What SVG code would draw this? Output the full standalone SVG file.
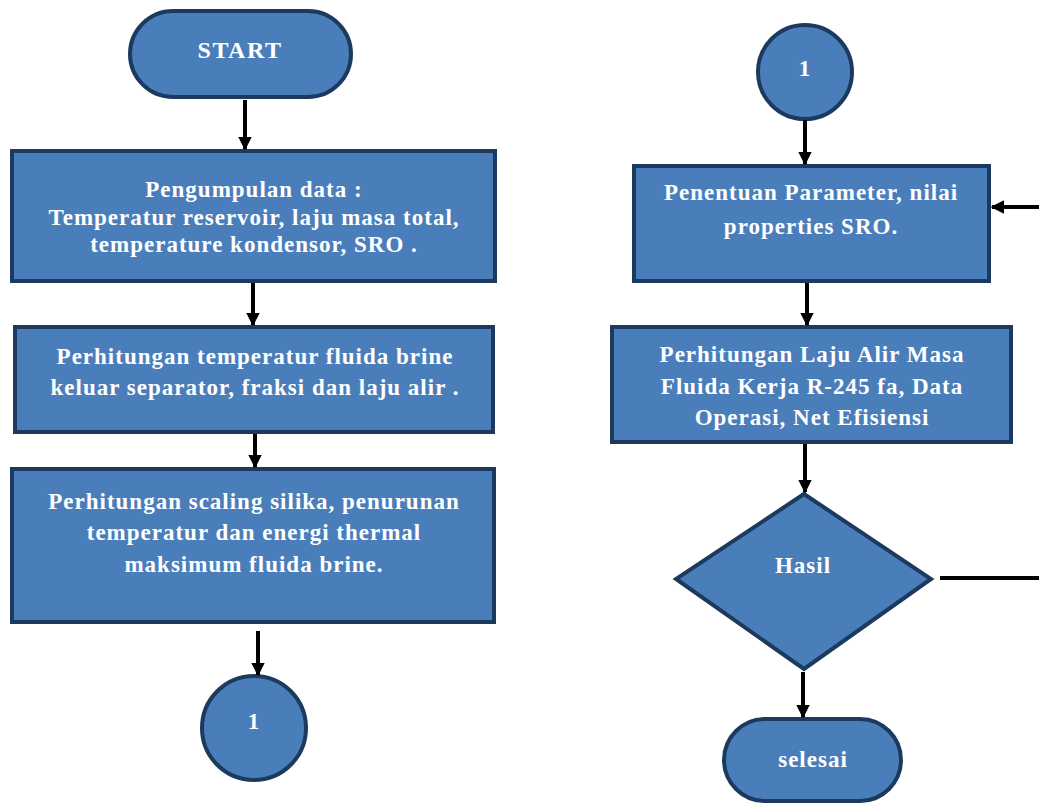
<svg xmlns="http://www.w3.org/2000/svg" width="1039" height="804" viewBox="0 0 1039 804">
<defs>
<marker id="ah" viewBox="0 0 10 10" refX="9" refY="5" markerWidth="3.4" markerHeight="3.4" orient="auto" markerUnits="strokeWidth">
<path d="M0,0 L10,5 L0,10 Z" fill="#000"/>
</marker>
</defs>
<style>
.sh{fill:#4a7ebb;stroke:#1c3a5e;stroke-width:4}
.t{font-family:"Liberation Serif","Times New Roman",serif;font-weight:bold;font-size:23px;letter-spacing:1px;fill:#fff;text-anchor:middle}
.c{fill:none;stroke:#000;stroke-width:4;marker-end:url(#ah)}
.cn{fill:none;stroke:#000;stroke-width:4}
</style>
<rect width="1039" height="804" fill="#fff"/>
<g id="start">
<rect class="sh" x="130" y="11" width="221" height="86" rx="43"/>
<text class="t" x="240" y="58" style="font-size:24px;letter-spacing:1.5px">START</text>
</g>
<g id="data">
<rect class="sh" x="12" y="151" width="483" height="130"/>
<text class="t" x="254" y="197">Pengumpulan data :</text>
<text class="t" x="254" y="225">Temperatur reservoir, laju masa total,</text>
<text class="t" x="254" y="252">temperature kondensor, SRO .</text>
</g>
<g id="brine">
<rect class="sh" x="15" y="327" width="478" height="105"/>
<text class="t" x="255" y="364">Perhitungan temperatur fluida brine</text>
<text class="t" x="255" y="395">keluar separator, fraksi dan laju alir .</text>
</g>
<g id="scaling">
<rect class="sh" x="12" y="469" width="482" height="153"/>
<text class="t" x="254" y="509">Perhitungan scaling silika, penurunan</text>
<text class="t" x="254" y="540">temperatur dan energi thermal</text>
<text class="t" x="254" y="572">maksimum fluida brine.</text>
</g>
<g id="conn1a">
<circle class="sh" cx="254" cy="728" r="52"/>
<text class="t" x="254" y="729">1</text>
</g>
<g id="conn1b">
<circle class="sh" cx="805" cy="72" r="47"/>
<text class="t" x="805" y="76">1</text>
</g>
<g id="param">
<rect class="sh" x="634" y="166" width="355" height="115"/>
<text class="t" x="811" y="200">Penentuan Parameter, nilai</text>
<text class="t" x="811" y="234">properties SRO.</text>
</g>
<g id="laju">
<rect class="sh" x="612" y="327" width="399" height="115"/>
<text class="t" x="812" y="362">Perhitungan Laju Alir Masa</text>
<text class="t" x="812" y="394">Fluida Kerja R-245  fa, Data</text>
<text class="t" x="812" y="425">Operasi, Net Efisiensi</text>
</g>
<g id="hasil">
<polygon class="sh" points="804,494 931,579 804,669 676,579"/>
<text class="t" x="803" y="573">Hasil</text>
</g>
<g id="selesai">
<rect class="sh" x="724" y="719" width="177" height="82" rx="41"/>
<text class="t" x="813" y="767">selesai</text>
</g>
<g id="connectors">
<path class="c" d="M245,100 V149"/>
<path class="c" d="M253,283 V325"/>
<path class="c" d="M255,434 V467"/>
<path class="c" d="M258,631 V675"/>
<path class="c" d="M805,120 V164"/>
<path class="c" d="M807,283 V325"/>
<path class="c" d="M805,444 V492"/>
<path class="c" d="M803,672 V717"/>
<path class="cn" d="M940,578 H1041"/>
<path class="c" d="M1041,207 H992"/>
</g>
</svg>
